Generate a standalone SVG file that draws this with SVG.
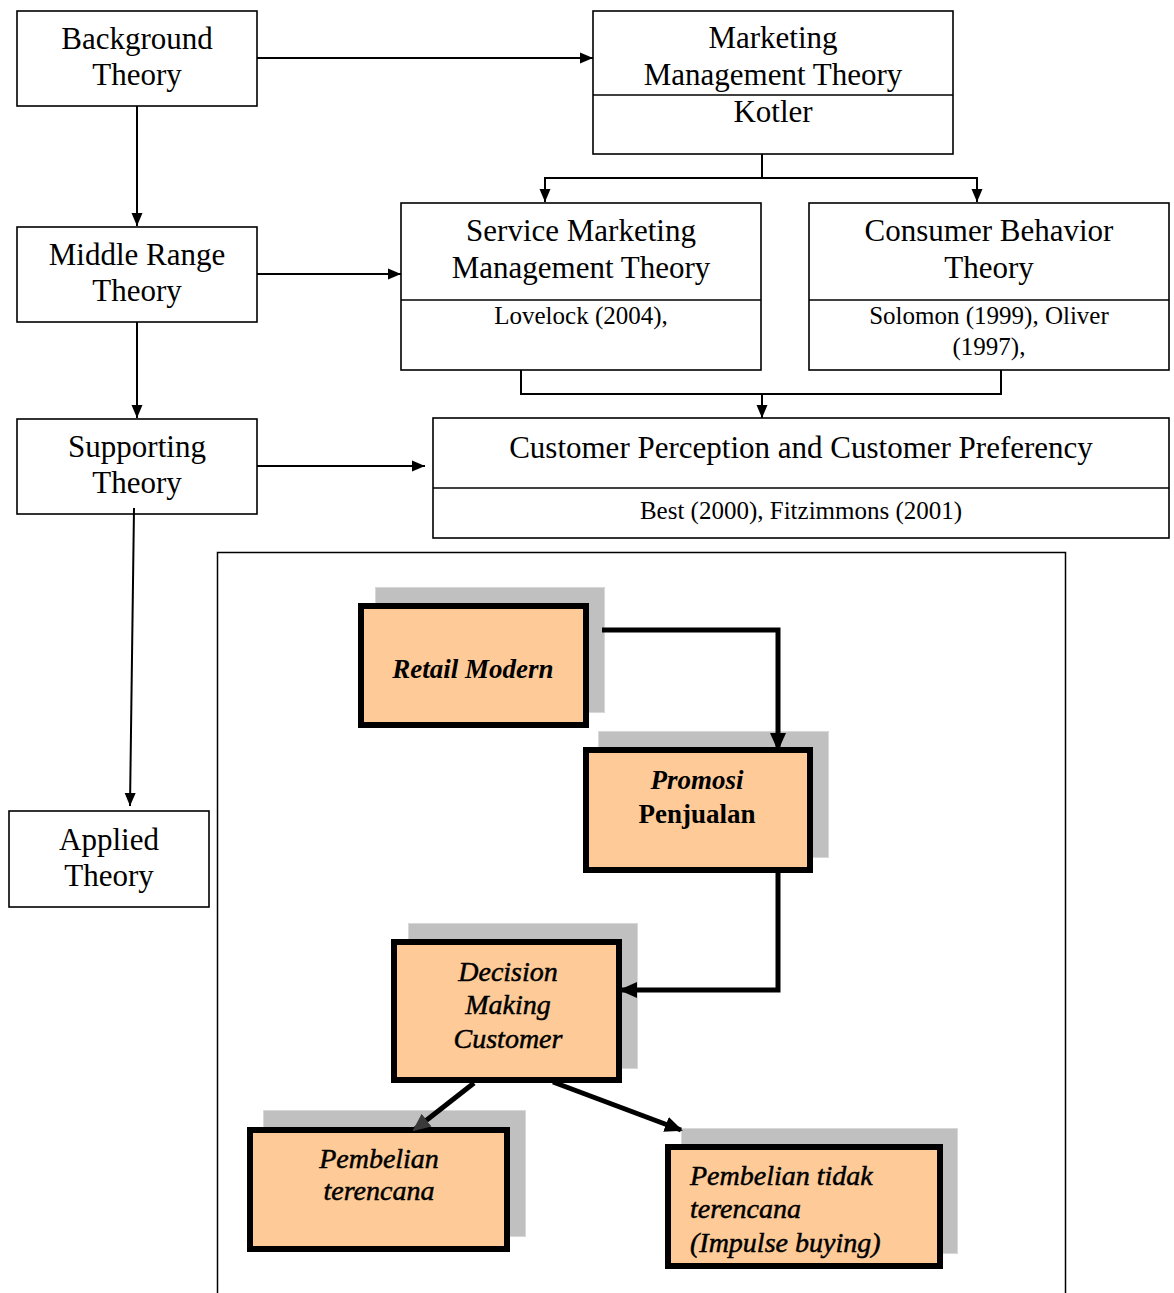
<svg xmlns="http://www.w3.org/2000/svg" width="1174" height="1293" viewBox="0 0 1174 1293">
<style>
.box{fill:#fff;stroke:#000;stroke-width:1.6}
.div{stroke:#000;stroke-width:1.6}
.t{font-family:"Liberation Serif","Times New Roman",serif;font-size:31px;text-anchor:middle;fill:#000}
.s{font-family:"Liberation Serif","Times New Roman",serif;font-size:25px;text-anchor:middle;fill:#000}
.c{fill:none;stroke:#000;stroke-width:2}
.cb{fill:none;stroke:#000;stroke-width:5}
.sh{fill:#c0c0c0;stroke:#d8d8d8;stroke-width:1}
.ob{fill:#fecb98;stroke:#000;stroke-width:6}
.bi{font-family:"Liberation Serif","Times New Roman",serif;font-size:27px;font-weight:bold;text-anchor:middle;fill:#000}
.it{font-family:"Liberation Serif","Times New Roman",serif;font-size:28px;font-style:italic;fill:#000;stroke:#000;stroke-width:0.5}
</style>
<defs>
<marker id="ah" markerUnits="userSpaceOnUse" markerWidth="13" markerHeight="12" refX="13" refY="6" orient="auto" viewBox="0 0 13 12"><path d="M0,0.5 L13,6 L0,11.5 z" fill="#000"/></marker>
<marker id="ahb" markerUnits="userSpaceOnUse" markerWidth="18" markerHeight="18" refX="16" refY="9" orient="auto" viewBox="0 0 18 18"><path d="M0,1 L18,9 L0,17 z" fill="#000"/></marker>
<marker id="ahg" markerUnits="userSpaceOnUse" markerWidth="18" markerHeight="18" refX="16" refY="9" orient="auto" viewBox="0 0 18 18"><path d="M0,1 L18,9 L0,17 z" fill="#3a3a3a"/></marker>
</defs>
<rect width="1174" height="1293" fill="#fff"/>
<rect x="217.5" y="552.5" width="848" height="760" fill="none" stroke="#000" stroke-width="1.5"/>

<g id="background-theory">
<rect class="box" x="17" y="11" width="240" height="95"/>
<text class="t" x="137" y="49">Background</text>
<text class="t" x="137" y="85">Theory</text>
</g>
<g id="marketing-management">
<rect class="box" x="593" y="11" width="360" height="143"/>
<line class="div" x1="593" y1="95" x2="953" y2="95"/>
<text class="t" x="773" y="48">Marketing</text>
<text class="t" x="773" y="85">Management Theory</text>
<text class="t" x="773" y="122">Kotler</text>
</g>
<g id="middle-range">
<rect class="box" x="17" y="227" width="240" height="95"/>
<text class="t" x="137" y="265">Middle Range</text>
<text class="t" x="137" y="301">Theory</text>
</g>
<g id="supporting-theory">
<rect class="box" x="17" y="419" width="240" height="95"/>
<text class="t" x="137" y="457">Supporting</text>
<text class="t" x="137" y="493">Theory</text>
</g>
<g id="applied-theory">
<rect class="box" x="9" y="811" width="200" height="96"/>
<text class="t" x="109" y="850">Applied</text>
<text class="t" x="109" y="886">Theory</text>
</g>
<g id="service-marketing">
<rect class="box" x="401" y="203" width="360" height="167"/>
<line class="div" x1="401" y1="300" x2="761" y2="300"/>
<text class="t" x="581" y="241">Service Marketing</text>
<text class="t" x="581" y="278">Management Theory</text>
<text class="s" x="581" y="324">Lovelock (2004),</text>
</g>
<g id="consumer-behavior">
<rect class="box" x="809" y="203" width="360" height="167"/>
<line class="div" x1="809" y1="300" x2="1169" y2="300"/>
<text class="t" x="989" y="241">Consumer Behavior</text>
<text class="t" x="989" y="278">Theory</text>
<text class="s" x="989" y="324">Solomon (1999), Oliver</text>
<text class="s" x="989" y="355">(1997),</text>
</g>
<g id="customer-perception">
<rect class="box" x="433" y="418" width="736" height="120"/>
<line class="div" x1="433" y1="488" x2="1169" y2="488"/>
<text class="t" x="801" y="458">Customer Perception and Customer Preferency</text>
<text class="s" x="801" y="519">Best (2000), Fitzimmons (2001)</text>
</g>

<g id="retail-modern">
<rect class="sh" x="375.5" y="587.5" width="229" height="125"/>
<rect class="ob" x="361" y="606" width="225" height="119"/>
<text class="bi" x="473" y="678" font-style="italic">Retail Modern</text>
</g>
<g id="promosi-penjualan">
<rect class="sh" x="598.5" y="731.5" width="230" height="126"/>
<rect class="ob" x="586" y="750" width="224" height="120"/>
<text class="bi" x="697" y="789" font-style="italic">Promosi</text>
<text class="bi" x="697" y="823">Penjualan</text>
</g>
<g id="decision-making">
<rect class="sh" x="408.5" y="923.5" width="229" height="145"/>
<rect class="ob" x="394" y="942" width="225" height="138"/>
<text class="it" x="508" y="981" text-anchor="middle">Decision</text>
<text class="it" x="508" y="1014" text-anchor="middle">Making</text>
<text class="it" x="508" y="1048" text-anchor="middle">Customer</text>
</g>
<g id="pembelian-terencana">
<rect class="sh" x="263.5" y="1110.5" width="262" height="126"/>
<rect class="ob" x="250" y="1130" width="257" height="119"/>
<text class="it" x="379" y="1168" text-anchor="middle">Pembelian</text>
<text class="it" x="379" y="1200" text-anchor="middle">terencana</text>
</g>
<g id="pembelian-tidak-terencana">
<rect class="sh" x="681.5" y="1128.5" width="276" height="125"/>
<rect class="ob" x="668" y="1147" width="272" height="119"/>
<text class="it" x="690" y="1185">Pembelian tidak</text>
<text class="it" x="690" y="1218">terencana</text>
<text class="it" x="690" y="1252">(Impulse buying)</text>
</g>

<g id="connectors">
<path class="c" d="M257,58 H593" marker-end="url(#ah)"/>
<path class="c" d="M137,106 V226" marker-end="url(#ah)"/>
<path class="c" d="M137,322 V418" marker-end="url(#ah)"/>
<path class="c" d="M134,508 L130,806" marker-end="url(#ah)"/>
<path class="c" d="M257,274 H401" marker-end="url(#ah)"/>
<path class="c" d="M257,466 H425" marker-end="url(#ah)"/>
<path class="c" d="M762,154 V178"/>
<path class="c" d="M545,178 H977"/>
<path class="c" d="M545,177 V202" marker-end="url(#ah)"/>
<path class="c" d="M977,177 V202" marker-end="url(#ah)"/>
<path class="c" d="M521,370 V394 H1001 V370"/>
<path class="c" d="M762,394 V418" marker-end="url(#ah)"/>
<path class="cb" d="M602,630 H778 V749" marker-end="url(#ahb)"/>
<path class="cb" d="M778,873 V990 H621" marker-end="url(#ahb)"/>
<path class="cb" d="M474,1083 L414,1130" marker-end="url(#ahg)"/>
<path class="cb" d="M553,1082 L681,1130" marker-end="url(#ahb)"/>
</g>
</svg>
